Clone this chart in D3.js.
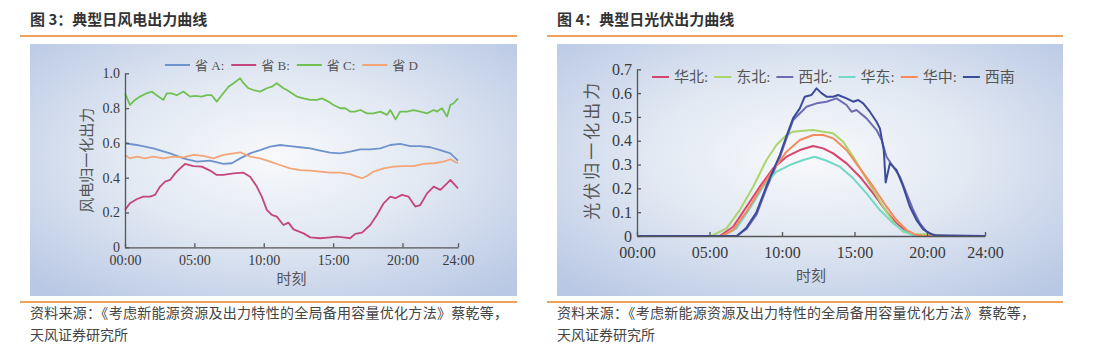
<!DOCTYPE html>
<html>
<head>
<meta charset="utf-8">
<script src="https://cdn.jsdelivr.net/npm/d3@7"></script>
<style>
  body { margin: 0; background: #fff; }
  text { font-family: "Liberation Serif", "Noto Sans CJK SC", serif; }
  .cjk { font-family: "Noto Sans CJK SC", sans-serif; }
</style>
</head>
<body>
<div id="chart"></div>
<script>
const w = 1105;
const h = 364;

// x ticks (hours) and labels shared by both charts
const hourTicks = [0, 5, 10, 15, 20, 24];
const hourLabels = ['00:00', '05:00', '10:00', '15:00', '20:00', '24:00'];

// wind output, [hour, normalised value]
const windA = [[0,0.598],[0.84,0.588],[2.04,0.569],[3.25,0.54],[4.21,0.511],[5.17,0.492],[6.13,0.498],[7.09,0.479],[7.7,0.483],[8.3,0.511],[9.02,0.54],[9.74,0.559],[10.46,0.579],[11.18,0.588],[11.9,0.582],[12.63,0.575],[13.35,0.569],[14.07,0.556],[14.79,0.544],[15.51,0.54],[16.23,0.55],[16.96,0.563],[17.68,0.563],[18.4,0.569],[19.12,0.588],[19.84,0.594],[20.56,0.582],[21.28,0.582],[22.01,0.575],[22.73,0.559],[23.45,0.54],[24,0.498]];
const windB = [[0,0.215],[0.36,0.253],[0.84,0.276],[1.32,0.291],[1.8,0.291],[2.16,0.301],[2.53,0.349],[2.89,0.377],[3.25,0.387],[3.61,0.425],[3.97,0.454],[4.33,0.479],[4.93,0.467],[5.53,0.464],[6.13,0.441],[6.61,0.416],[7.09,0.416],[7.82,0.425],[8.54,0.429],[9.02,0.406],[9.5,0.349],[9.86,0.291],[10.22,0.215],[10.58,0.186],[10.94,0.176],[11.42,0.128],[11.78,0.142],[12.15,0.103],[12.87,0.08],[13.35,0.057],[14.07,0.052],[14.79,0.057],[15.27,0.061],[15.75,0.057],[16.23,0.052],[16.59,0.077],[17.08,0.084],[17.68,0.128],[18.16,0.186],[18.64,0.253],[19.12,0.291],[19.48,0.282],[19.96,0.301],[20.44,0.291],[20.92,0.234],[21.28,0.243],[21.77,0.31],[22.25,0.349],[22.73,0.33],[23.21,0.368],[23.45,0.387],[24,0.339]];
const windC = [[0,0.885],[0.36,0.818],[0.72,0.847],[1.08,0.866],[1.56,0.885],[1.92,0.895],[2.28,0.874],[2.77,0.847],[3.01,0.885],[3.37,0.885],[3.73,0.874],[4.21,0.895],[4.69,0.866],[5.05,0.87],[5.53,0.866],[5.89,0.874],[6.25,0.874],[6.61,0.837],[6.97,0.874],[7.46,0.923],[7.82,0.943],[8.3,0.971],[8.54,0.943],[8.9,0.914],[9.26,0.904],[9.74,0.895],[10.22,0.914],[10.58,0.923],[10.94,0.943],[11.42,0.914],[11.66,0.904],[12.03,0.885],[12.39,0.866],[12.87,0.856],[13.35,0.847],[13.83,0.847],[14.19,0.856],[14.67,0.837],[15.03,0.818],[15.51,0.799],[15.87,0.799],[16.23,0.78],[16.59,0.78],[16.96,0.789],[17.44,0.77],[17.92,0.77],[18.4,0.78],[18.88,0.761],[19.12,0.789],[19.5,0.735],[19.84,0.78],[20.32,0.78],[20.8,0.789],[21.28,0.78],[21.77,0.77],[22.25,0.789],[22.49,0.78],[22.85,0.799],[23.21,0.751],[23.45,0.818],[23.69,0.828],[24,0.856]];
const windD = [[0,0.531],[0.36,0.511],[0.84,0.521],[1.44,0.511],[2.04,0.521],[2.77,0.511],[3.49,0.521],[4.21,0.517],[4.93,0.531],[5.65,0.525],[6.37,0.511],[7.09,0.531],[7.82,0.54],[8.3,0.546],[9.02,0.521],[9.74,0.511],[10.46,0.492],[11.18,0.473],[11.9,0.454],[12.63,0.444],[13.35,0.441],[14.07,0.435],[14.79,0.429],[15.51,0.429],[16.23,0.421],[16.71,0.406],[17.08,0.397],[17.44,0.41],[17.92,0.435],[18.64,0.454],[19.36,0.464],[20.08,0.467],[20.8,0.467],[21.52,0.479],[22.25,0.483],[22.97,0.492],[23.45,0.506],[24,0.483]];

// PV output, [hour, normalised value]
const pvHuabei = [[0,0],[5.71,0],[6.63,0.039],[7.55,0.123],[8.47,0.207],[9.39,0.284],[10.31,0.333],[11.23,0.361],[12.15,0.378],[12.84,0.368],[13.53,0.347],[14.45,0.305],[15.37,0.249],[16.29,0.179],[17.21,0.102],[17.9,0.053],[18.59,0.018],[19.28,0],[24,0]];
const pvDongbei = [[0,0],[5.13,0],[6.17,0.032],[7.09,0.109],[8.01,0.207],[8.93,0.319],[9.62,0.382],[10.31,0.424],[10.77,0.438],[11.46,0.442],[12.15,0.445],[12.84,0.438],[13.53,0.431],[14.22,0.396],[14.91,0.333],[15.6,0.263],[16.29,0.193],[16.98,0.123],[17.67,0.06],[18.36,0.018],[19.05,0.007],[19.97,0.007],[20.89,0.004],[21.35,0],[24,0]];
const pvXibei = [[0,0],[6.86,0],[7.55,0.03],[8.24,0.09],[8.93,0.2],[9.39,0.265],[9.85,0.33],[10.31,0.41],[10.77,0.487],[11.69,0.543],[12.38,0.557],[13.07,0.564],[13.76,0.578],[14.45,0.55],[14.79,0.522],[15.14,0.529],[15.83,0.494],[16.52,0.445],[16.87,0.403],[17.21,0.333],[17.67,0.291],[18.13,0.249],[18.59,0.179],[19.05,0.109],[19.51,0.053],[19.97,0.018],[20.43,0.004],[24,0]];
const pvHuadong = [[0,0],[5.9,0],[6.86,0.032],[7.78,0.116],[8.7,0.207],[9.62,0.27],[10.54,0.298],[11.46,0.319],[12.26,0.333],[13.07,0.316],[13.99,0.291],[14.91,0.242],[15.83,0.179],[16.75,0.109],[17.67,0.053],[18.36,0.022],[19.05,0.004],[19.51,0],[24,0]];
const pvHuazhong = [[0,0],[5.82,0],[6.63,0.025],[7.55,0.102],[8.47,0.193],[9.39,0.277],[10.31,0.354],[11.23,0.403],[12.15,0.424],[12.84,0.424],[13.53,0.41],[14.45,0.361],[15.37,0.284],[16.29,0.207],[17.21,0.123],[17.9,0.067],[18.59,0.025],[19.28,0.004],[19.74,0],[24,0]];
const pvXinan = [[0,0],[6.9,0],[7.55,0.035],[8.24,0.1],[8.93,0.21],[9.39,0.275],[9.85,0.34],[10.31,0.42],[10.77,0.495],[11.23,0.536],[11.57,0.585],[12.03,0.592],[12.38,0.62],[12.72,0.6],[13.07,0.585],[13.53,0.585],[13.87,0.592],[14.45,0.578],[14.91,0.564],[15.26,0.571],[15.6,0.557],[16.06,0.522],[16.52,0.48],[16.75,0.452],[17.02,0.361],[17.15,0.225],[17.44,0.305],[17.9,0.277],[18.36,0.207],[18.82,0.123],[19.28,0.067],[19.74,0.028],[20.2,0.011],[20.66,0],[24,0]];

const windNames = ['省 A:', '省 B:', '省 C:', '省 D'];
const windColors = ['#6f93cc', '#c4467c', '#72c052', '#f3a578'];
const pvNames = ['华北:', '东北:', '西北:', '华东:', '华中:', '西南'];
const pvColors = ['#d8446e', '#a9d66c', '#6d6db4', '#74d8c6', '#f58a5c', '#3c4a9c'];

const svg = d3.select('#chart')
              .append('svg')
              .attr('width', w)
              .attr('height', h)
              .style('background-color', 'white')

// panel background: pale centre fading to light blue
const defs = svg.append('defs')
const grad = defs.append('radialGradient')
                 .attr('id', 'bg')
                 .attr('cx', '50%').attr('cy', '45%').attr('r', '70%')
grad.append('stop').attr('offset', '0%').attr('stop-color', '#f8f9fb')
grad.append('stop').attr('offset', '45%').attr('stop-color', '#e2e9f3')
grad.append('stop').attr('offset', '100%').attr('stop-color', '#b9c8e4')

function frame(x0, x1, title) {
   svg.append('text')
      .attr('class', 'cjk')
      .attr('x', x0 + 10)
      .attr('y', 25)
      .attr('font-size', '15px')
      .attr('font-weight', 'bold')
      .attr('fill', '#333')
      .text(title)
   svg.append('line')
      .attr('x1', x0).attr('x2', x1)
      .attr('y1', 36).attr('y2', 36)
      .attr('stroke', '#e8822a').attr('stroke-width', 1.5)
   svg.append('rect')
      .attr('x', x0 + 10).attr('y', 44)
      .attr('width', x1 - x0 - 10).attr('height', 252)
      .attr('fill', 'url(#bg)')
   svg.append('line')
      .attr('x1', x0).attr('x2', x1)
      .attr('y1', 302).attr('y2', 302)
      .attr('stroke', '#e8822a').attr('stroke-width', 1.5)
   svg.append('text')
      .attr('class', 'cjk')
      .attr('x', x0 + 10).attr('y', 318)
      .attr('font-size', '14px')
      .attr('fill', '#444')
      .attr('textLength', 478)
      .attr('lengthAdjust', 'spacing')
      .text('资料来源：《考虑新能源资源及出力特性的全局备用容量优化方法》蔡乾等，')
   svg.append('text')
      .attr('class', 'cjk')
      .attr('x', x0 + 10).attr('y', 340)
      .attr('font-size', '14px')
      .attr('fill', '#444')
      .text('天风证券研究所')
}

frame(20, 517, '图 3：典型日风电出力曲线')
frame(547, 1063, '图 4：典型日光伏出力曲线')

function chart(opt) {
   const xScale = d3.scaleLinear().domain([0, 24]).range([opt.left, opt.right]);
   const yScale = d3.scaleLinear().domain([0, opt.ymax]).range([opt.bottom, opt.top]);
   const g = svg.append('g')

   const line = d3.line()
                  .x(d => xScale(d[0]))
                  .y(d => yScale(d[1]))

   g.selectAll('path.series')
    .data(opt.series)
    .enter()
    .append('path')
    .attr('class', 'series')
    .attr('d', d => line(d))
    .attr('fill', 'none')
    .attr('stroke', (d, i) => opt.colors[i])
    .attr('stroke-width', opt.sw)
    .attr('stroke-linejoin', 'round')

   const xAxis = d3.axisBottom(xScale)
                   .tickValues(hourTicks)
                   .tickFormat((d, i) => hourLabels[i])
                   .tickSizeInner(-4).tickSizeOuter(0).tickPadding(opt.xpad)
   const gx = g.append('g')
      .attr('transform', `translate(0, ${opt.bottom})`)
      .call(xAxis)
   const yAxis = d3.axisLeft(yScale)
                   .tickValues(opt.yticks)
                   .tickFormat(d => d === 0 ? '0' : d3.format('.1f')(d))
                   .tickSizeInner(-4).tickSizeOuter(0).tickPadding(5)
   const gy = g.append('g')
      .attr('transform', `translate(${opt.left}, 0)`)
      .call(yAxis)
   for (const ax of [gx, gy]) {
      ax.select('.domain').attr('stroke', '#555').attr('stroke-width', 1.3)
      ax.selectAll('.tick line').attr('stroke', '#555').attr('stroke-width', 1.3)
      ax.selectAll('.tick text')
        .attr('fill', '#3a3a3a')
        .attr('font-size', opt.fs + 'px')
        .style('font-family', '"Liberation Serif", serif')
   }

   g.append('text')
    .attr('class', 'cjk')
    .attr('x', (opt.left + opt.right) / 2)
    .attr('y', opt.bottom + opt.xtDy)
    .attr('text-anchor', 'middle')
    .attr('font-size', '15px')
    .attr('fill', '#555')
    .text('时刻')

   g.append('text')
    .attr('class', 'cjk')
    .attr('transform', `translate(${opt.ytX}, ${(opt.top + opt.bottom) / 2 + opt.ytDy}) rotate(-90)`)
    .attr('text-anchor', 'middle')
    .attr('font-size', opt.ytFs + 'px')
    .attr('fill', '#555')
    .attr('letter-spacing', opt.ytLs)
    .text(opt.ytitle)

   // legend, laid out left to right from measured text widths
   let lx = opt.legX
   opt.names.forEach((name, i) => {
      g.append('line')
       .attr('x1', lx).attr('x2', lx + opt.legLine)
       .attr('y1', opt.legY).attr('y2', opt.legY)
       .attr('stroke', opt.colors[i]).attr('stroke-width', 2)
      const t = g.append('text')
       .attr('x', lx + opt.legLine + 5)
       .attr('y', opt.legY + opt.legFs * 0.35)
       .attr('font-size', opt.legFs + 'px')
       .attr('fill', '#555')
       .text(name)
      lx += opt.legLine + 5 + t.node().getComputedTextLength() + opt.legGap
   })
}

chart({
   left: 125, right: 458, top: 73.3, bottom: 247.3, ymax: 1,
   yticks: [0, 0.2, 0.4, 0.6, 0.8, 1.0], fs: 14, sw: 1.8, xpad: 8, xtDy: 37,
   series: [windA, windB, windC, windD], colors: windColors, names: windNames,
   ytitle: '风电归一化出力', ytX: 92, ytDy: 0, ytFs: 15, ytLs: 0,
   legX: 165, legY: 65, legLine: 25, legFs: 13, legGap: 7
})

chart({
   left: 637, right: 985, top: 69.3, bottom: 236, ymax: 0.7,
   yticks: [0, 0.1, 0.2, 0.3, 0.4, 0.5, 0.6, 0.7], fs: 16, sw: 2, xpad: 11, xtDy: 45,
   series: [pvHuabei, pvDongbei, pvXibei, pvHuadong, pvHuazhong, pvXinan], colors: pvColors, names: pvNames,
   ytitle: '光伏归一化出力', ytX: 598, ytDy: -3, ytFs: 17, ytLs: 3,
   legX: 652, legY: 77, legLine: 17, legFs: 15, legGap: 6
})
</script>
</body>
</html>
